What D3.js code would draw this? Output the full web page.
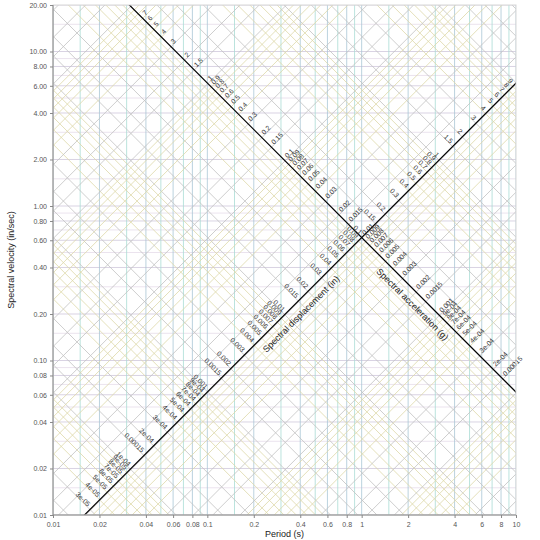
<!DOCTYPE html>
<html><head><meta charset="utf-8">
<script src="https://cdn.jsdelivr.net/npm/d3@7"></script>
<style>body{margin:0;background:#fff}text{font-family:Arial,"Liberation Sans",sans-serif}</style>
</head><body><div id="chart"></div>
<script>
// tick values
let periodTicks = [0.01, 0.02, 0.04, 0.06, 0.08, 0.1, 0.2, 0.4, 0.6, 0.8, 1, 2, 4, 6, 8, 10];
let velocityTicks = [0.01, 0.02, 0.04, 0.06, 0.08, 0.1, 0.2, 0.4, 0.6, 0.8, 1, 2, 4, 6, 8, 10, 20];
let mantissas = [1, 1.5, 2, 3, 4, 5, 6, 7, 8, 9];
let decades = [1e-5, 1e-4, 1e-3, 1e-2, 1e-1, 1, 10];
let periodGrid = [0.01, 0.015, 0.02, 0.03, 0.04, 0.05, 0.06, 0.07, 0.08, 0.09, 0.1, 0.15, 0.2, 0.3, 0.4, 0.5, 0.6, 0.7, 0.8, 0.9, 1, 1.5, 2, 3, 4, 5, 6, 7, 8, 9, 10];
let velocityGrid = [0.01, 0.015, 0.02, 0.03, 0.04, 0.05, 0.06, 0.07, 0.08, 0.09, 0.1, 0.15, 0.2, 0.3, 0.4, 0.5, 0.6, 0.7, 0.8, 0.9, 1, 1.5, 2, 3, 4, 5, 6, 7, 8, 9, 10, 15, 20];
let axisK = 0.625;   // displacement axis SV = k*T, acceleration axis SV = k/T
let g = 386.09;

let levels = [];
decades.forEach(d => mantissas.forEach(m => levels.push(+(m * d).toPrecision(3))));
levels = levels.filter(v => v <= 30);

function fmt(v) {
  let fixed = String(+v.toPrecision(3));
  let e = Math.floor(Math.log10(v) + 1e-9);
  let m = +(v / Math.pow(10, e)).toPrecision(3);
  let sci = m + "e" + (e < 0 ? "-" : "+") + String(Math.abs(e)).padStart(2, "0");
  return fixed.length <= sci.length ? fixed : sci;
}

let W = 540, H = 540;
let margin = {top: 5, right: 24, bottom: 25, left: 53};
let svg = d3.select('#chart').append('svg').attr('width', W).attr('height', H);
let x = d3.scaleLog().domain([0.01, 10]).range([margin.left, W - margin.right]);
let y = d3.scaleLog().domain([0.01, 20]).range([H - margin.bottom, margin.top]);

svg.append('clipPath').attr('id', 'clip').append('rect')
  .attr('x', x(0.01)).attr('y', y(20)).attr('width', x(10) - x(0.01)).attr('height', y(0.01) - y(20));
let plot = svg.append('g').attr('clip-path', 'url(#clip)');

function mant(d) { return +(d / Math.pow(10, Math.floor(Math.log10(d) + 1e-9))).toPrecision(2); }

// horizontal grid
plot.selectAll('line.h').data(velocityGrid).enter().append('line')
  .attr('x1', x(0.01)).attr('x2', x(10)).attr('y1', d => y(d)).attr('y2', d => y(d))
  .attr('stroke', d => [1, 2, 4, 6, 8].includes(mant(d)) ? '#cfc8dc' : '#e6dcea')
  .attr('stroke-width', 0.8);
// vertical grid
plot.selectAll('line.v').data(periodGrid).enter().append('line')
  .attr('y1', y(0.01)).attr('y2', y(20)).attr('x1', d => x(d)).attr('x2', d => x(d))
  .attr('stroke', (d, i) => i % 2 ? '#a9dcd4' : '#a9c6d6').attr('stroke-width', 0.8);

let T0 = 0.005, T1 = 20;
function diagColor(v) { return mant(v) <= 3 ? '#c2c2c2' : '#ddd8a8'; }
// displacement lines SV = 2*pi*SD/T
plot.selectAll('line.sd').data(levels).enter().append('line')
  .attr('x1', x(T0)).attr('y1', d => y(2 * Math.PI * d / T0))
  .attr('x2', x(T1)).attr('y2', d => y(2 * Math.PI * d / T1))
  .attr('stroke', diagColor).attr('stroke-width', 0.8);
// acceleration lines SV = SA*g*T/(2*pi)
plot.selectAll('line.sa').data(levels).enter().append('line')
  .attr('x1', x(T0)).attr('y1', d => y(d * g * T0 / (2 * Math.PI)))
  .attr('x2', x(T1)).attr('y2', d => y(d * g * T1 / (2 * Math.PI)))
  .attr('stroke', diagColor).attr('stroke-width', 0.8);

// diagonal axes
plot.append('line').attr('x1', x(T0)).attr('y1', y(axisK * T0)).attr('x2', x(T1)).attr('y2', y(axisK * T1))
  .attr('stroke', '#000').attr('stroke-width', 1.2);
plot.append('line').attr('x1', x(T0)).attr('y1', y(axisK / T0)).attr('x2', x(T1)).attr('y2', y(axisK / T1))
  .attr('stroke', '#000').attr('stroke-width', 1.2);

function inside(T, sv) { return T >= 0.01 && T <= 10 && sv >= 0.01 && sv <= 20 && y(sv) > 14; }
// displacement labels
levels.forEach(v => {
  let T = Math.sqrt(2 * Math.PI * v / axisK), sv = axisK * T;
  if (!inside(T, sv)) return;
  svg.append('text').attr('transform', `translate(${x(T) - 2.5},${y(sv) - 2.5}) rotate(45)`)
    .attr('text-anchor', 'end').attr('font-size', 6.8).attr('fill', '#333').text(fmt(v));
});
// acceleration labels
levels.forEach(v => {
  let T = Math.sqrt(axisK * 2 * Math.PI / (v * g)), sv = axisK / T;
  if (!inside(T, sv)) return;
  svg.append('text').attr('transform', `translate(${x(T) + 2.5},${y(sv) - 2.5}) rotate(-45)`)
    .attr('text-anchor', 'start').attr('font-size', 6.8).attr('fill', '#333').text(fmt(v));
});

// axis titles on diagonals
svg.append('text').attr('transform', `translate(${x(0.36) + 5},${y(axisK * 0.36) + 5}) rotate(-45)`)
  .attr('text-anchor', 'middle').attr('dy', '0.8em').attr('font-size', 9).attr('fill', '#222').text('Spectral displacement (in)');
svg.append('text').attr('transform', `translate(${x(2.4) - 5},${y(axisK / 2.4) + 5}) rotate(45)`)
  .attr('text-anchor', 'middle').attr('dy', '0.8em').attr('font-size', 9).attr('fill', '#222').text('Spectral acceleration (g)');

// frame
svg.append('rect').attr('x', x(0.01)).attr('y', y(20)).attr('width', x(10) - x(0.01)).attr('height', y(0.01) - y(20))
  .attr('fill', 'none').attr('stroke', '#d8d8d8');
svg.append('line').attr('x1', x(0.01)).attr('x2', x(0.01)).attr('y1', y(20)).attr('y2', y(0.01)).attr('stroke', '#888');
svg.append('line').attr('x1', x(0.01)).attr('x2', x(10)).attr('y1', y(0.01)).attr('y2', y(0.01)).attr('stroke', '#888');

let xAxis = svg.append('g').attr('transform', `translate(0,${y(0.01)})`)
  .call(d3.axisBottom(x).tickValues(periodTicks).tickFormat(d => String(d)).tickSize(3).tickSizeOuter(0));
let yAxis = svg.append('g').attr('transform', `translate(${x(0.01)},0)`)
  .call(d3.axisLeft(y).tickValues(velocityTicks).tickFormat(d3.format('.2f')).tickSize(3).tickSizeOuter(0));
[xAxis, yAxis].forEach(a => {
  a.select('.domain').remove();
  a.selectAll('line').attr('stroke', '#888');
  a.selectAll('text').attr('fill', '#555').attr('font-size', 7).attr('font-family', 'Arial,"Liberation Sans",sans-serif');
});
xAxis.selectAll('text').attr('dy', '0.9em');

svg.append('text').attr('x', (x(0.01) + x(10)) / 2).attr('y', H - 3).attr('text-anchor', 'middle')
  .attr('font-size', 9).attr('fill', '#222').text('Period (s)');
svg.append('text').attr('transform', `translate(14,${(y(20) + y(0.01)) / 2}) rotate(-90)`).attr('text-anchor', 'middle')
  .attr('font-size', 9).attr('fill', '#222').text('Spectral velocity (in/sec)');
</script></body></html>
